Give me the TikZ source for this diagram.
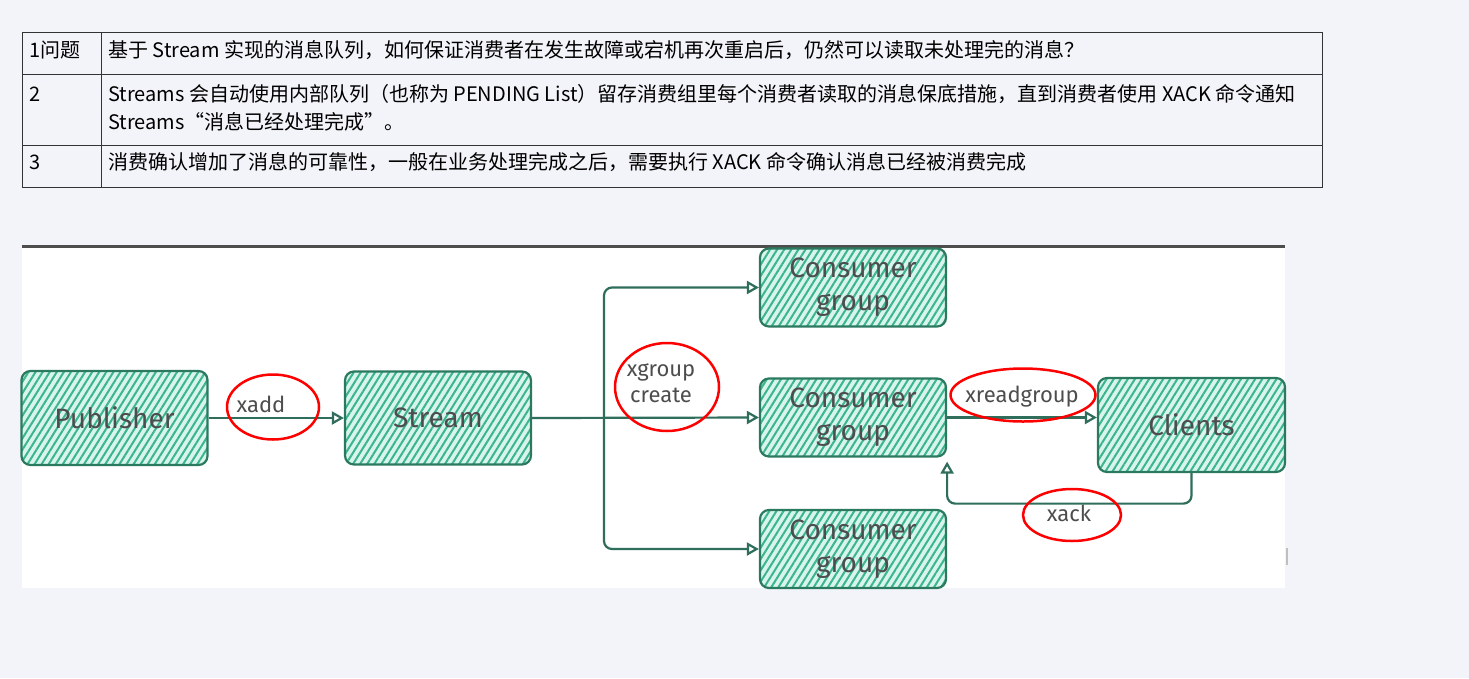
\documentclass[tikz,border=0pt]{standalone}
\usepackage{fontspec}
\setmainfont{Noto Sans CJK SC}
\newfontfamily\handfont{Fira Sans}
\usetikzlibrary{calc, shapes, positioning, arrows.meta, patterns.meta}
\definecolor{pagebg}{HTML}{F3F4F9}
\definecolor{boxfill}{HTML}{D8F4EB}
\definecolor{hatchc}{HTML}{3AB58F}
\definecolor{boxline}{HTML}{2B7A60}
\definecolor{arrowc}{HTML}{2F6E5B}
\definecolor{labelc}{HTML}{4D4D4D}
\definecolor{gridc}{HTML}{333333}
\tikzstyle{sketchbox}=[shape=rectangle, rounded corners=9pt, draw=boxline, line width=2.2pt, preaction={fill=boxfill}, pattern={Lines[angle=58, distance=6pt, line width=2pt]}, pattern color=hatchc, minimum width=186pt, text=labelc, font=\handfont\fontsize{28}{33}\selectfont, align=center]
\tikzstyle{flow}=[draw=arrowc, line width=2.2pt, -{Triangle[open, length=12pt, width=13pt]}]
\tikzstyle{redring}=[shape=ellipse, draw=red, line width=2.5pt, inner sep=0pt]
\tikzstyle{cmdlabel}=[text=labelc, font=\handfont\fontsize{22}{26}\selectfont, align=center, inner sep=0pt]
\tikzstyle{celltext}=[anchor=west, inner sep=0pt, text height=0.8em, text depth=0.2em, font=\fontsize{20}{24}\selectfont]

\begin{document}
\begin{tikzpicture}[x=1pt, y=-1pt]
\useasboundingbox[fill=pagebg] (0,0) rectangle (1469,678);
% table
\draw[gridc, line width=1pt] (22,32) rectangle (1322,187);
\draw[gridc, line width=1pt] (22,74) -- (1322,74) (22,145) -- (1322,145) (101,32) -- (101,187);
\node[celltext] (q1) at (29,54) {1问题};
\node[celltext] (a1) at (108,54) {基于 Stream 实现的消息队列，如何保证消费者在发生故障或宕机再次重启后，仍然可以读取未处理完的消息？};
\node[celltext] (q2) at (29,98) {2};
\node[celltext] (a2) at (108,98) {Streams 会自动使用内部队列（也称为 PENDING List）留存消费组里每个消费者读取的消息保底措施，直到消费者使用 XACK 命令通知};
\node[celltext] (a2b) at (108,126) {Streams“消息已经处理完成”。};
\node[celltext] (q3) at (29,166) {3};
\node[celltext] (a3) at (108,166) {消费确认增加了消息的可靠性，一般在业务处理完成之后，需要执行 XACK 命令确认消息已经被消费完成};
% diagram area
\fill[white] (22,247) rectangle (1285,588);
\draw[labelc, line width=3pt] (22,246) -- (1285,246);
\draw[black!25, line width=1.5pt] (1287,548) -- (1287,565);
% boxes
\node[sketchbox, minimum height=94pt] (pub) at (114.5,418) {Publisher};
\node[sketchbox, minimum height=93pt] (stream) at (438,418) {Stream};
\foreach \i/\y in {1/287.5, 2/417.5, 3/549}{
	\node[sketchbox, minimum height=78pt] (cg\i) at (853,\y) {Consumer\\group};
}
\node[sketchbox, minimum width=187pt, minimum height=94pt] (clients) at (1191.5,425) {Clients};
% arrows
\coordinate (split) at (604,418);
\draw[flow] (pub) -- (stream);
\draw[flow] (stream.east) -- (cg2.west);
\foreach \i in {1,3}{
	\draw[flow, rounded corners=8pt] (split) |- (cg\i.west);
}
\draw[flow] (cg2.east) -- (cg2.east -| clients.west);
\draw[flow, rounded corners=8pt] (clients.south) |- ($(cg2.south east)+(0,46)$) -- ($(cg2.south east)+(0,4)$);
% commands
\node[redring, minimum width=92pt, minimum height=65pt] (ringadd) at (273,407) {};
\node[cmdlabel] (cmdadd) at (261,404) {xadd};
\node[redring, minimum width=104pt, minimum height=88pt] (ringgroup) at (667,387) {};
\node[cmdlabel] (cmdgroup) at (661,383) {xgroup\\create};
\node[redring, minimum width=145pt, minimum height=53pt] (ringread) at (1023,395) {};
\node[cmdlabel] (cmdread) at (1022,397) {xreadgroup};
\node[redring, minimum width=98pt, minimum height=52pt] (ringack) at (1072,515) {};
\node[cmdlabel] (cmdack) at (1069,513) {xack};
\end{tikzpicture}
\end{document}
